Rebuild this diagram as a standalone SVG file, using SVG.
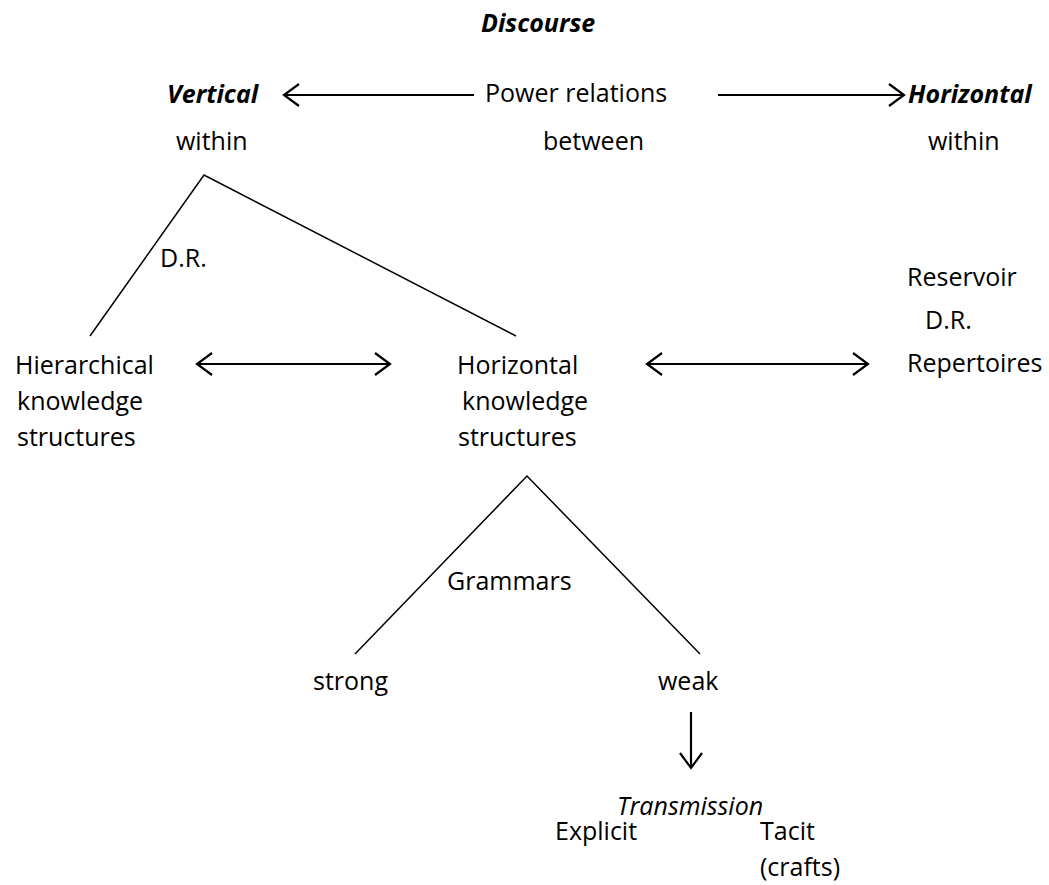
<svg xmlns="http://www.w3.org/2000/svg" width="1049" height="885" viewBox="0 0 1049 885">
<style>
text{font-family:"Open Sans","Noto Sans","Liberation Sans",sans-serif;font-size:25px;fill:#000}
.bi{font-weight:bold;font-style:italic}
.it{font-style:italic}
.ln{stroke:#000;stroke-width:1.5;fill:none}
.ar{stroke:#000;stroke-width:2.2;fill:none}
</style>
<defs>
<marker id="ah" viewBox="0 0 24 24" refX="20" refY="12" markerWidth="24" markerHeight="24" markerUnits="userSpaceOnUse" orient="auto-start-reverse">
<polyline points="5,1 20,12 5,23" fill="none" stroke="#000" stroke-width="2.2"/>
</marker>
</defs>
<rect width="1049" height="885" fill="#fff"/>
<g id="connectors">
<line class="ar" x1="474" y1="95" x2="284" y2="95" marker-end="url(#ah)"/>
<line class="ar" x1="718" y1="95" x2="904" y2="95" marker-end="url(#ah)"/>
<polyline class="ln" points="90,336 204,175 516,336"/>
<line class="ar" x1="197" y1="364" x2="390" y2="364" marker-start="url(#ah)" marker-end="url(#ah)"/>
<line class="ar" x1="647" y1="364" x2="868" y2="364" marker-start="url(#ah)" marker-end="url(#ah)"/>
<polyline class="ln" points="355,654 527,476 700,654"/>
<line class="ar" x1="691" y1="712" x2="691" y2="768" marker-end="url(#ah)"/>
</g>
<g id="discourse"><text class="bi" x="481" y="32">Discourse</text></g>
<g id="vertical"><text class="bi" x="167" y="103">Vertical</text><text x="176" y="150">within</text></g>
<g id="power"><text x="485" y="102">Power relations</text><text x="543" y="150">between</text></g>
<g id="horizontal"><text class="bi" x="908" y="103">Horizontal</text><text x="928" y="150">within</text></g>
<g id="dr1"><text x="160" y="267">D.R.</text></g>
<g id="reservoir"><text x="907" y="286">Reservoir</text><text x="925" y="329">D.R.</text><text x="907" y="372">Repertoires</text></g>
<g id="hks"><text x="15" y="374">Hierarchical</text><text x="17" y="410">knowledge</text><text x="17" y="446">structures</text></g>
<g id="horks"><text x="457" y="374">Horizontal</text><text x="462" y="410">knowledge</text><text x="458" y="446">structures</text></g>
<g id="grammars"><text x="447" y="590">Grammars</text></g>
<g id="strong"><text x="313" y="690">strong</text></g>
<g id="weak"><text x="658" y="690">weak</text></g>
<g id="transmission"><text class="it" x="617" y="815">Transmission</text></g>
<g id="explicit"><text x="555" y="840">Explicit</text></g>
<g id="tacit"><text x="760" y="840">Tacit</text><text x="760" y="876">(crafts)</text></g>
</svg>
